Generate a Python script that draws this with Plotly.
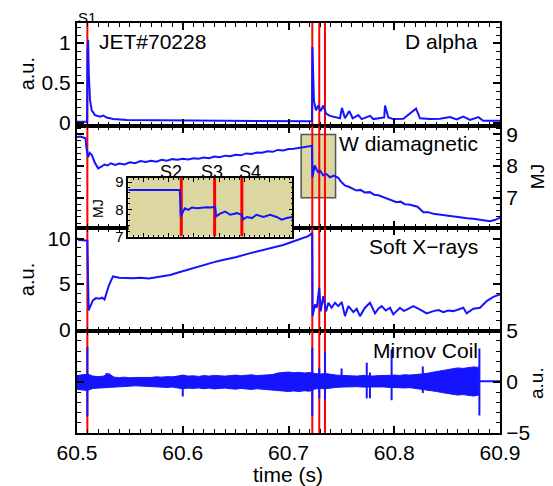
import plotly.graph_objects as go

# ---------------- data ----------------
x_range = [60.5, 60.9]
event_t = [60.5098, 60.7225, 60.7291, 60.7345]
event_names = ["S1", "S2", "S3", "S4"]

dalpha_t = [60.500, 60.5095, 60.5100, 60.5105, 60.5112, 60.5123, 60.5139, 60.5170, 60.5217,
            60.5249, 60.5280, 60.5343, 60.5470, 60.5850, 60.6500, 60.7222, 60.7226, 60.7232,
            60.7241, 60.7260, 60.7282, 60.7304, 60.7329, 60.7355, 60.7392, 60.7487, 60.7505,
            60.7534, 60.7575, 60.7607, 60.7660, 60.7692, 60.7771, 60.7802, 60.7905, 60.7913,
            60.7944, 60.7991, 60.8086, 60.8206, 60.8244, 60.8338, 60.8433, 60.8527, 60.8590,
            60.8653, 60.8716, 60.8795, 60.8842, 60.9000]
dalpha_v = [0.016, 0.016, 0.90, 1.04, 0.60, 0.29, 0.16, 0.10, 0.08,
            0.095, 0.07, 0.05, 0.04, 0.035, 0.025, 0.022, 0.95, 0.50,
            0.27, 0.16, 0.22, 0.15, 0.22, 0.12, 0.09, 0.06, 0.19,
            0.06, 0.15, 0.06, 0.10, 0.05, 0.09, 0.05, 0.07, 0.22,
            0.07, 0.05, 0.055, 0.18, 0.06, 0.05, 0.055, 0.075, 0.045,
            0.08, 0.04, 0.075, 0.03, 0.03]

wdia_t = [60.500, 60.503, 60.506, 60.508, 60.509, 60.5105, 60.512, 60.514, 60.517, 60.520,
          60.523, 60.526, 60.529, 60.532, 60.536, 60.540, 60.545, 60.550, 60.555, 60.560,
          60.565, 60.570, 60.575, 60.580, 60.585, 60.590, 60.595, 60.600, 60.605, 60.610,
          60.615, 60.620, 60.625, 60.630, 60.635, 60.640, 60.645, 60.650, 60.655, 60.660,
          60.665, 60.670, 60.675, 60.680, 60.685, 60.690, 60.695, 60.700, 60.705, 60.710,
          60.715, 60.7222, 60.7226, 60.7248, 60.7265, 60.728, 60.730, 60.7329, 60.736, 60.7392,
          60.743, 60.747, 60.750, 60.7533, 60.757, 60.7605, 60.7643, 60.768, 60.772, 60.777,
          60.781, 60.785, 60.7896, 60.794, 60.798, 60.8022, 60.806, 60.810, 60.814, 60.818,
          60.822, 60.8275, 60.832, 60.837, 60.8432, 60.848, 60.853, 60.859, 60.864, 60.869,
          60.8748, 60.880, 60.8855, 60.8905, 60.895, 60.900]
wdia_v = [8.92, 8.93, 8.90, 8.88, 8.55, 8.28, 8.42, 8.35, 8.10, 7.93,
          7.98, 8.05, 8.02, 8.09, 8.04, 8.08, 8.05, 8.12, 8.09, 8.16,
          8.13, 8.17, 8.14, 8.20, 8.17, 8.22, 8.20, 8.23, 8.21, 8.25,
          8.23, 8.27, 8.25, 8.30, 8.28, 8.33, 8.31, 8.36, 8.34, 8.40,
          8.38, 8.43, 8.42, 8.47, 8.45, 8.51, 8.49, 8.54, 8.55, 8.58,
          8.61, 8.64, 7.65, 8.02, 7.90, 7.81, 7.85, 7.71, 7.75, 7.65,
          7.70, 7.63, 7.50, 7.39, 7.35, 7.28, 7.23, 7.25, 7.17, 7.18,
          7.10, 7.08, 7.02, 6.98, 6.92, 6.86, 6.88, 6.80, 6.79, 6.76,
          6.72, 6.55, 6.55, 6.50, 6.47, 6.46, 6.42, 6.39, 6.38, 6.36,
          6.34, 6.32, 6.30, 6.26, 6.30, 6.38]

sxr_t = [60.500, 60.502, 60.508, 60.5098, 60.511, 60.512, 60.515, 60.518, 60.521, 60.524,
         60.526, 60.530, 60.534, 60.540, 60.545, 60.553, 60.560, 60.568, 60.578, 60.588,
         60.595, 60.604, 60.615, 60.625, 60.632, 60.640, 60.650, 60.664, 60.675, 60.685,
         60.695, 60.705, 60.711, 60.7187, 60.7224, 60.7228, 60.7251, 60.7267, 60.7291, 60.7304,
         60.7329, 60.7355, 60.7377, 60.7408, 60.7440, 60.7471, 60.7503, 60.7534, 60.7566, 60.7590,
         60.7613, 60.7645, 60.7676, 60.7723, 60.7771, 60.7818, 60.7850, 60.7881, 60.7920, 60.7960,
         60.7991, 60.8054, 60.8090, 60.8118, 60.8181, 60.8244, 60.8307, 60.8370, 60.8420, 60.8464,
         60.8510, 60.8559, 60.8610, 60.8653, 60.8685, 60.8748, 60.8811, 60.8874, 60.8937, 60.9000]
sxr_v = [10.05, 9.85, 9.80, 9.75, 2.10, 2.40, 3.20, 3.46, 3.40, 3.50,
         3.30, 4.80, 5.84, 5.70, 5.67, 5.65, 5.70, 5.62, 5.80, 6.00,
         6.25, 6.57, 6.90, 7.25, 7.49, 7.70, 7.95, 8.40, 8.70, 9.00,
         9.30, 9.70, 9.95, 10.27, 10.60, 1.48, 2.77, 2.40, 4.60, 2.00,
         3.68, 2.00, 2.95, 2.40, 2.95, 2.58, 3.02, 1.48, 2.58, 2.30,
         1.92, 2.29, 1.48, 2.40, 2.95, 1.78, 2.30, 2.58, 2.10, 2.40,
         1.67, 2.40, 2.05, 2.20, 2.58, 2.20, 1.78, 2.03, 2.15, 1.92,
         2.10, 2.03, 2.20, 2.40, 1.78, 2.29, 2.40, 3.13, 3.60, 3.86]

mir_t = [60.500, 60.505, 60.510, 60.515, 60.520, 60.525, 60.530, 60.535, 60.540, 60.545,
         60.550, 60.555, 60.560, 60.565, 60.570, 60.575, 60.580, 60.585, 60.590, 60.595,
         60.600, 60.605, 60.610, 60.615, 60.620, 60.625, 60.630, 60.635, 60.640, 60.645,
         60.650, 60.655, 60.660, 60.665, 60.670, 60.675, 60.680, 60.685, 60.690, 60.695,
         60.700, 60.705, 60.710, 60.715, 60.720, 60.725, 60.730, 60.735, 60.740, 60.745,
         60.750, 60.755, 60.760, 60.765, 60.770, 60.775, 60.780, 60.785, 60.790, 60.795,
         60.800, 60.805, 60.810, 60.815, 60.820, 60.825, 60.830, 60.835, 60.840, 60.845,
         60.850, 60.855, 60.860, 60.865, 60.870, 60.875, 60.880]
mir_hi = [0.60, 0.70, 0.75, 0.55, 0.50, 0.55, 0.80, 0.45, 0.40, 0.45,
          0.38, 0.42, 0.40, 0.45, 0.42, 0.48, 0.45, 0.50, 0.48, 0.55,
          0.65, 0.55, 0.58, 0.52, 0.60, 0.55, 0.62, 0.58, 0.55, 0.60,
          0.65, 0.58, 0.62, 0.68, 0.60, 0.65, 0.72, 0.70, 0.85, 0.90,
          0.95, 0.88, 0.92, 0.85, 0.90, 0.80, 0.75, 0.80, 0.70, 0.65,
          0.62, 0.58, 0.60, 0.55, 0.62, 0.58, 0.55, 0.60, 0.58, 0.62,
          0.65, 0.62, 0.68, 0.65, 0.70, 0.72, 0.80, 0.90, 1.00, 1.10,
          1.20, 1.25, 1.35, 1.30, 1.40, 1.45, 1.40]
mir_lo = [-0.75, -0.80, -0.85, -0.65, -0.62, -0.60, -0.55, -0.50, -0.45, -0.42,
          -0.45, -0.40, -0.42, -0.45, -0.48, -0.50, -0.48, -0.55, -0.52, -0.58,
          -0.68, -0.62, -0.65, -0.60, -0.68, -0.62, -0.70, -0.65, -0.62, -0.68,
          -0.72, -0.65, -0.70, -0.75, -0.68, -0.72, -0.78, -0.80, -0.88, -0.92,
          -0.95, -0.90, -0.95, -0.88, -0.92, -0.70, -0.65, -0.68, -0.60, -0.55,
          -0.52, -0.50, -0.55, -0.48, -0.52, -0.50, -0.48, -0.52, -0.50, -0.55,
          -0.58, -0.55, -0.60, -0.58, -0.65, -0.68, -0.75, -0.85, -0.95, -1.05,
          -1.15, -1.20, -1.30, -1.25, -1.35, -1.40, -1.30]
mir_tail_t = [60.880, 60.900]
mir_tail_v = [0.05, 0.05]
spike_t = [60.5098, 60.528, 60.600, 60.7225, 60.7291, 60.7345, 60.7502, 60.774, 60.777,
           60.7975, 60.827, 60.8805]
spike_hi = [3.40, 0.85, 0.60, 3.35, 1.30, 2.95, 1.30, 1.85, 0.90, 3.15, 1.50, 3.25]
spike_lo = [-3.40, -0.50, -1.45, -3.35, -1.60, -1.75, -0.40, -1.60, -1.60, -1.80, -1.10, -3.30]

inset_t = [60.7120, 60.7123, 60.7150, 60.7180, 60.7200, 60.7222, 60.7224, 60.7232, 60.7239,
           60.7246, 60.7256, 60.7265, 60.7275, 60.7284, 60.7292, 60.7294, 60.7302, 60.7312,
           60.7322, 60.7335, 60.7345, 60.7347, 60.7355, 60.7365, 60.7374, 60.7388, 60.7401,
           60.7414, 60.7424, 60.7434, 60.7445]
inset_w = [8.71, 8.71, 8.72, 8.73, 8.71, 8.71, 7.74, 8.04, 7.98,
           8.07, 8.04, 8.06, 8.08, 8.07, 8.10, 7.74, 7.84, 7.92,
           7.80, 7.86, 7.80, 7.62, 7.72, 7.68, 7.80, 7.72, 7.80,
           7.72, 7.62, 7.68, 7.72]

zoom_box_t = [60.712, 60.7445]
zoom_box_w = [7.0, 9.0]

# ---------------- styling ----------------
FONT = "Liberation Sans, Arial, sans-serif"
BLUE = "#1414ff"
RED = "#ff0000"
KHAKI = "#dcd6a0"

y_ranges = {1: [-0.03, 1.25], 2: [6.05, 9.28], 3: [-0.1, 11.16], 4: [-5, 5]}
inset_y_range = [7.0, 9.15]
domains = {1: [0.75, 1.0], 2: [0.5, 0.75], 3: [0.25, 0.5], 4: [0.0, 0.25]}


def ax(i):
    return "" if i == 1 else str(i)


fig = go.Figure()

# panel traces
fig.add_trace(go.Scatter(x=dalpha_t, y=dalpha_v, mode="lines", line=dict(color=BLUE, width=2),
                         xaxis="x", yaxis="y"))
fig.add_trace(go.Scatter(x=wdia_t, y=wdia_v, mode="lines", line=dict(color=BLUE, width=2),
                         xaxis="x2", yaxis="y2"))
fig.add_trace(go.Scatter(x=sxr_t, y=sxr_v, mode="lines", line=dict(color=BLUE, width=2),
                         xaxis="x3", yaxis="y3"))
fig.add_trace(go.Scatter(x=mir_t, y=mir_lo, mode="lines", line=dict(color=BLUE, width=1),
                         xaxis="x4", yaxis="y4"))
fig.add_trace(go.Scatter(x=mir_t, y=mir_hi, mode="lines", line=dict(color=BLUE, width=1),
                         fill="tonexty", fillcolor=BLUE, xaxis="x4", yaxis="y4"))
sx, sy = [], []
for t, hi, lo in zip(spike_t, spike_hi, spike_lo):
    sx += [t, t, None]
    sy += [hi, lo, None]
fig.add_trace(go.Scatter(x=sx, y=sy, mode="lines", line=dict(color=BLUE, width=2),
                         xaxis="x4", yaxis="y4"))
fig.add_trace(go.Scatter(x=mir_tail_t, y=mir_tail_v, mode="lines", line=dict(color=BLUE, width=2),
                         xaxis="x4", yaxis="y4"))
# inset trace
fig.add_trace(go.Scatter(x=inset_t, y=inset_w, mode="lines", line=dict(color=BLUE, width=2),
                         xaxis="x5", yaxis="y5"))

# shapes
shapes = []
shapes.append(dict(type="rect", xref="x2", yref="y2", x0=zoom_box_t[0], x1=zoom_box_t[1],
                   y0=zoom_box_w[0], y1=zoom_box_w[1], fillcolor=KHAKI,
                   line=dict(color="#555555", width=1.5), layer="below"))
for i in range(1, 5):
    for t in event_t:
        shapes.append(dict(type="line", xref="x" + ax(i), yref="y" + ax(i), x0=t, x1=t,
                           y0=y_ranges[i][0], y1=y_ranges[i][1],
                           line=dict(color=RED, width=2), layer="below"))
shapes.append(dict(type="rect", xref="x5", yref="y5", x0=zoom_box_t[0], x1=zoom_box_t[1],
                   y0=inset_y_range[0], y1=inset_y_range[1], fillcolor=KHAKI,
                   line=dict(width=0), layer="below"))
for t in event_t[1:]:
    shapes.append(dict(type="line", xref="x5", yref="y5", x0=t, x1=t,
                       y0=inset_y_range[0], y1=inset_y_range[1],
                       line=dict(color=RED, width=3), layer="below"))

common_axis = dict(showline=True, linecolor="black", linewidth=2, mirror="ticks",
                   ticks="inside", tickcolor="black", tickwidth=1.5, ticklen=7,
                   showgrid=False, zeroline=False,
                   tickfont=dict(family=FONT, size=21, color="black"))

# page body has an 8px margin, so the figure is 8px smaller and its margins shifted
layout = dict(width=545, height=478,
              margin=dict(l=69, r=53, t=15, b=53, autoexpand=False),
              paper_bgcolor="white", plot_bgcolor="rgba(0,0,0,0)", showlegend=False,
              font=dict(family=FONT, color="black"), shapes=shapes)

y_ticks = {1: (0.5, 0.1), 2: (1, 0.2), 3: (5, 1), 4: (5, 1)}
y_side = {1: "left", 2: "right", 3: "left", 4: "right"}
for i in range(1, 5):
    layout["xaxis" + ax(i)] = dict(common_axis, domain=[0, 1], anchor="y" + ax(i),
                                   range=x_range, dtick=0.1, tick0=60.5,
                                   showticklabels=(i == 4),
                                   minor=dict(dtick=0.01, ticks="inside", ticklen=4,
                                              tickcolor="black", tickwidth=1))
    layout["yaxis" + ax(i)] = dict(common_axis, domain=domains[i], anchor="x" + ax(i),
                                   range=y_ranges[i], dtick=y_ticks[i][0], tick0=0,
                                   side=y_side[i],
                                   minor=dict(dtick=y_ticks[i][1], ticks="inside", ticklen=4,
                                              tickcolor="black", tickwidth=1))

inset_axis = dict(showline=True, linecolor="black", linewidth=1.5, mirror="ticks",
                  ticks="inside", tickcolor="black", tickwidth=1, ticklen=4,
                  showgrid=False, zeroline=False,
                  tickfont=dict(family=FONT, size=15, color="black"))
layout["xaxis5"] = dict(inset_axis, domain=[0.1213, 0.509], anchor="y5", range=zoom_box_t,
                        dtick=0.005, showticklabels=False,
                        minor=dict(dtick=0.001, ticks="inside", ticklen=2, tickcolor="black"))
layout["yaxis5"] = dict(inset_axis, domain=[0.479, 0.622], anchor="x5", range=inset_y_range,
                        dtick=1, tick0=0,
                        minor=dict(dtick=0.2, ticks="inside", ticklen=2, tickcolor="black"))

big = dict(family=FONT, size=21, color="black")
annotations = [
    dict(text="JET#70228", x=0.047, y=0.9537, xanchor="left", font=big),
    dict(text="D alpha", x=0.953, y=0.9537, xanchor="right", font=big),
    dict(text="W diamagnetic", x=0.953, y=0.7066, xanchor="right", font=big),
    dict(text="Soft X\u2212rays", x=0.953, y=0.4544, xanchor="right", font=big),
    dict(text="Mirnov Coil", x=0.953, y=0.2024, xanchor="right", font=big),
    dict(text="a.u.", x=-0.118, y=0.875, textangle=-90, font=dict(family=FONT, size=20)),
    dict(text="MJ", x=1.0875, y=0.624, textangle=-90, font=dict(family=FONT, size=19)),
    dict(text="a.u.", x=-0.118, y=0.373, textangle=-90, font=dict(family=FONT, size=20)),
    dict(text="a.u.", x=1.0875, y=0.122, textangle=-90, font=dict(family=FONT, size=19)),
    dict(text="time (s)", x=0.4988, y=-0.1, font=big),
    dict(text="MJ", x=0.0496, y=0.549, textangle=-90, font=dict(family=FONT, size=14)),
    dict(text=event_names[0], xref="x", x=event_t[0], y=1.0134, font=dict(family=FONT, size=15)),
]
for name, t, shift in zip(event_names[1:], event_t[1:], [-10, -3, 8]):
    annotations.append(dict(text=name, xref="x5", x=t, xshift=shift, y=0.6366,
                            font=dict(family=FONT, size=18)))
for a in annotations:
    a.setdefault("xref", "paper")
    a.setdefault("yref", "paper")
    a.setdefault("xanchor", "center")
    a.setdefault("yanchor", "middle")
    a["showarrow"] = False
layout["annotations"] = annotations

fig.update_layout(**layout)
fig.write_html("out.html")
